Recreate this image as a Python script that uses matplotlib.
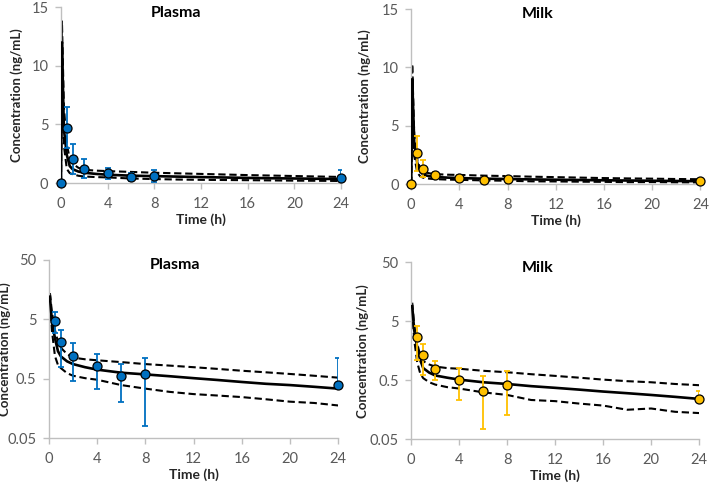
import matplotlib
matplotlib.use("Agg")
import matplotlib.pyplot as plt

# observed data (mean with lower / upper error)
obs_t = [0, 0.5, 1, 2, 4, 6, 8, 24]

plasma_obs = [0, 4.7, 2.05, 1.22, 0.82, 0.55, 0.61, 0.39]
plasma_lo = [0, 1.75, 1.26, 0.77, 0.49, 0.35, 0.53, 0.0]
plasma_hi = [0, 1.8, 1.25, 0.79, 0.49, 0.35, 0.52, 0.74]

milk_obs = [0, 2.68, 1.31, 0.78, 0.51, 0.33, 0.42, 0.24]
milk_lo = [0, 1.6, 0.71, 0.27, 0.28, 0.255, 0.29, 0.0]
milk_hi = [0, 1.45, 0.75, 0.27, 0.30, 0.26, 0.29, 0.086]

# model prediction: median and 5th / 95th percentiles
model_t = [0, 0.083, 0.25, 0.5, 0.75, 1, 1.5, 2, 3, 4, 6, 8, 10, 12, 14, 16, 18, 20, 22, 24]

plasma_med = [0, 12.0, 4.6, 2.4, 1.45, 1.18, 0.98, 0.88, 0.78, 0.71, 0.63, 0.59,
              0.55, 0.51, 0.475, 0.44, 0.41, 0.39, 0.365, 0.34]
plasma_p95 = [0, 13.8, 6.5, 3.3, 2.1, 1.65, 1.3, 1.13, 1.06, 1.02, 0.95, 0.88,
              0.83, 0.78, 0.73, 0.68, 0.64, 0.60, 0.56, 0.52]
plasma_p05 = [0, 9.5, 3.2, 1.2, 0.85, 0.75, 0.62, 0.56, 0.51, 0.48, 0.39, 0.34,
              0.30, 0.275, 0.26, 0.245, 0.225, 0.205, 0.195, 0.177]

milk_med = [0, 9.0, 3.5, 1.8, 1.1, 0.8, 0.67, 0.60, 0.55, 0.51, 0.46, 0.43,
            0.395, 0.37, 0.345, 0.32, 0.30, 0.28, 0.26, 0.24]
milk_p95 = [0, 10.3, 4.2, 2.1, 1.3, 1.05, 0.92, 0.85, 0.80, 0.78, 0.72, 0.68,
            0.63, 0.59, 0.55, 0.51, 0.48, 0.46, 0.43, 0.41]
milk_p05 = [0, 7.5, 2.4, 1.0, 0.65, 0.54, 0.46, 0.42, 0.38, 0.36, 0.31, 0.28,
            0.23, 0.22, 0.20, 0.185, 0.157, 0.165, 0.145, 0.138]

x_ticks = [0, 4, 8, 12, 16, 20, 24]
lin_ticks = [0, 5, 10, 15]
log_ticks = [0.05, 0.5, 5, 50]
log_labels = ["0.05", "0.5", "5", "50"]

plt.rcParams["font.family"] = ["Lato", "DejaVu Sans"]
axis_grey = "#bfbfbf"
tick_grey = "#595959"

fig = plt.figure(figsize=(7.09, 4.83), dpi=100)

panels = [
    # rect, title, title x, obs, lo, hi, color, med, p95, p05, log?, ylabel x
    ([0.086, 0.621, 0.395, 0.364], "Plasma", 0.41, plasma_obs, plasma_lo, plasma_hi,
     "#0070c0", plasma_med, plasma_p95, plasma_p05, False, -0.135),
    ([0.580, 0.619, 0.408, 0.362], "Milk", 0.436, milk_obs, milk_lo, milk_hi,
     "#ffc000", milk_med, milk_p95, milk_p05, False, -0.138),
    ([0.069, 0.093, 0.408, 0.369], "Plasma", 0.436, plasma_obs, plasma_lo, plasma_hi,
     "#0070c0", plasma_med, plasma_p95, plasma_p05, True, -0.13),
    ([0.580, 0.091, 0.406, 0.366], "Milk", 0.4375, milk_obs, milk_lo, milk_hi,
     "#ffc000", milk_med, milk_p95, milk_p05, True, -0.145),
]

for rect, title, tx, obs, lo, hi, col, med, p95, p05, is_log, ylx in panels:
    ax = fig.add_axes(rect)
    if is_log:
        # drop the t=0 points, they can't go on a log axis
        t_m, m, up, dn = model_t[1:], med[1:], p95[1:], p05[1:]
        t_o, o, el, eh = obs_t[1:], obs[1:], lo[1:], hi[1:]
    else:
        t_m, m, up, dn = model_t, med, p95, p05
        t_o, o, el, eh = obs_t, obs, lo, hi

    ax.plot(t_m, up, color="black", lw=1.5, ls=(0, (3.5, 1.8)), zorder=2)
    ax.plot(t_m, dn, color="black", lw=1.5, ls=(0, (3.5, 1.8)), zorder=2)
    ax.plot(t_m, m, color="black", lw=1.9, zorder=3)
    ax.errorbar(t_o, o, yerr=[el, eh], fmt="none", ecolor=col, elinewidth=1.3,
                capsize=2.5, capthick=1.3, zorder=4)
    ax.plot(t_o, o, "o", ms=6.5, mfc=col, mec="black", mew=0.9, zorder=5,
            clip_on=False)

    ax.set_xlim(0, 24)
    ax.set_xticks(x_ticks)
    if is_log:
        ax.set_yscale("log")
        ax.set_ylim(0.05, 50)
        ax.set_yticks(log_ticks)
        ax.set_yticklabels(log_labels)
        ax.minorticks_off()
    else:
        ax.set_ylim(0, 15)
        ax.set_yticks(lin_ticks)

    for s in ["top", "right"]:
        ax.spines[s].set_visible(False)
    for s in ["left", "bottom"]:
        ax.spines[s].set_color(axis_grey)
        ax.spines[s].set_linewidth(1.0)
    ax.tick_params(axis="both", colors=axis_grey, labelcolor=tick_grey,
                   labelsize=10.5, length=4, width=1.0)
    ax.tick_params(axis="x", pad=6)
    ax.tick_params(axis="y", pad=5)

    ax.text(tx, 0.97, title, transform=ax.transAxes, ha="center", va="center",
            fontsize=11.5, fontweight="bold", color="black")
    ax.set_xlabel("Time (h)", fontsize=10, fontweight="bold", color="#262626",
                  labelpad=2)
    ax.set_ylabel("Concentration (ng/mL)", fontsize=9.5, fontweight="bold",
                  color="#262626")
    ax.yaxis.set_label_coords(ylx, 0.5)

fig.savefig("out.png", dpi=100)
